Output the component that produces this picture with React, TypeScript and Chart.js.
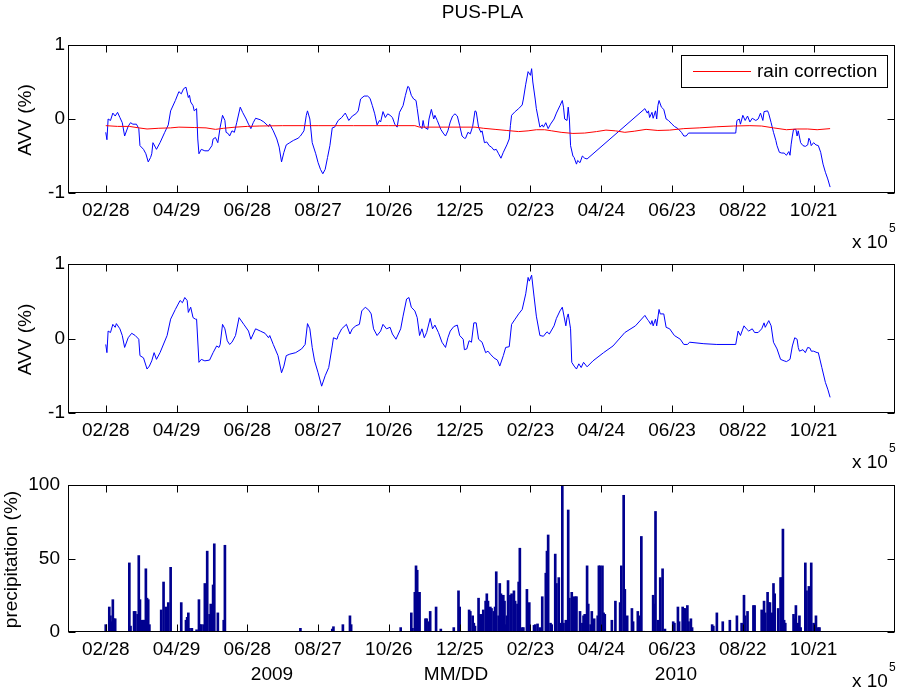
import React, { useEffect, useRef } from 'react';
import { Chart, registerables } from 'chart.js';
Chart.register(...registerables);

const FONT = '"Liberation Sans", Arial, Helvetica, sans-serif';
const W = 904;
const H = 689;

// x axis: days since 2009-02-28
const X_MIN = -32;
const X_MAX = 669;
const xTickDays = [0, 60, 120, 180, 240, 300, 360, 420, 480, 540, 600];
const xTickLabels = ['02/28', '04/29', '06/28', '08/27', '10/26', '12/25', '02/23', '04/24', '06/23', '08/22', '10/21'];
const avvTicks = [-1, 0, 1];
const precipTicks = [0, 50, 100];
const yearLabels = ['2009', 'MM/DD', '2010'];
const titleText = 'PUS-PLA';
const avvLabel = 'AVV (%)';
const precipLabel = 'precipitation (%)';
const legendLabel = 'rain correction';

// top panel: raw AVV (blue)
const rawDays = [0,1,2,4,6,8,10,12,14,16,19,21,23,26,28,29,32,34,36,38,39,40,42,43,46,50,53,55,59,62,64,66,68,70,71,72,74,75,77,78,79,81,84,87,90,91,93,95,97,99,101,102,104,105,107,109,111,114,116,119,121,123,125,127,131,134,138,139,142,145,147,149,151,153,156,159,163,165,168,170,171,173,175,178,180,182,184,186,188,190,192,194,197,200,203,204,206,209,212,214,216,219,222,224,226,228,230,232,233,235,237,239,241,243,245,247,249,252,254,256,257,259,261,263,264,266,268,269,270,273,274,276,278,279,281,284,286,288,290,292,294,296,298,300,302,304,305,307,309,311,313,314,316,318,319,321,323,325,327,329,331,333,335,337,340,342,343,344,347,350,353,354,356,358,360,361,362,364,365,368,370,371,373,375,377,380,382,385,387,388,389,391,392,393,394,396,397,399,400,402,404,406,408,457,459,460,461,463,464,466,467,468,469,471,473,475,477,480,482,485,488,490,492,494,534,535,537,538,540,542,544,546,548,551,553,555,557,558,561,562,564,566,568,569,571,573,575,577,579,580,581,582,583,585,586,587,589,591,593,595,596,597,598,600,602,604,606,608,610,612,614];
const rawAvv = [-0.18,-0.28,0,-0.02,0.08,0.04,0.09,0.02,-0.05,-0.23,-0.10,-0.05,-0.07,-0.07,-0.13,-0.36,-0.41,-0.47,-0.58,-0.52,-0.47,-0.32,-0.38,-0.41,-0.32,-0.18,-0.08,0.11,0.25,0.37,0.34,0.41,0.43,0.29,0.32,0.23,0.18,0.11,0.14,-0.27,-0.47,-0.41,-0.43,-0.43,-0.36,-0.27,-0.25,-0.32,-0.11,0.05,-0.02,-0.18,-0.20,-0.23,-0.16,-0.18,-0.05,0.16,0.09,0,-0.07,-0.13,-0.05,0.01,-0.01,-0.04,-0.10,-0.07,-0.16,-0.27,-0.38,-0.58,-0.45,-0.35,-0.32,-0.29,-0.26,-0.23,-0.16,0.05,0.11,0,-0.32,-0.47,-0.59,-0.68,-0.74,-0.68,-0.52,-0.36,-0.12,-0.11,-0.02,0.02,0.08,0.05,-0.02,0.04,0.07,0.11,0.27,0.31,0.31,0.28,0.18,0.07,-0.08,-0.02,-0.04,0.10,0.02,0.07,0.05,0.02,-0.07,-0.11,0.09,0.18,0.32,0.44,0.43,0.32,0.27,0.25,0.14,-0.09,-0.13,-0.02,-0.11,-0.14,0,0.13,0,0.05,-0.02,-0.14,-0.19,-0.23,-0.16,-0.04,0.04,0.07,0.04,-0.09,-0.23,-0.26,-0.26,-0.18,-0.20,-0.10,0.11,0.10,-0.11,-0.18,-0.16,-0.32,-0.31,-0.36,-0.38,-0.42,-0.41,-0.47,-0.53,-0.45,-0.35,-0.27,-0.09,0.05,0.10,0.14,0.19,0.27,0.47,0.64,0.59,0.68,0.50,0.27,0.14,-0.11,-0.08,-0.11,-0.05,-0.13,-0.07,0,0.08,0.18,0.25,0.16,0,-0.02,0.16,0,-0.36,-0.50,-0.52,-0.61,-0.56,-0.59,-0.50,-0.53,-0.54,0.14,0.08,0.11,0.02,0.09,0.01,0.11,0,0.18,0.25,0.16,0.13,0,-0.02,-0.07,-0.10,-0.13,-0.18,-0.23,-0.23,-0.19,-0.19,-0.02,0,-0.07,0.05,-0.02,0.04,-0.04,0.01,-0.02,0,0.08,-0.02,0.10,0.11,0.07,-0.05,-0.18,-0.29,-0.36,-0.45,-0.46,-0.46,-0.49,-0.44,-0.49,-0.34,-0.23,-0.14,-0.14,-0.23,-0.16,-0.32,-0.36,-0.37,-0.35,-0.26,-0.29,-0.36,-0.32,-0.35,-0.36,-0.45,-0.61,-0.72,-0.81,-0.92];

// top panel: rain correction (red)
const rainDays = [0,10,20,28,35,45,55,62,75,85,93,100,110,120,130,150,180,210,240,262,266,290,313,320,330,340,350,358,365,372,378,386,396,406,416,424,432,440,448,458,468,478,490,503,518,532,546,556,566,577,586,595,603,614];
const rainCorr = [-0.09,-0.10,-0.10,-0.12,-0.135,-0.125,-0.12,-0.11,-0.115,-0.12,-0.14,-0.125,-0.11,-0.10,-0.095,-0.09,-0.09,-0.09,-0.09,-0.09,-0.11,-0.11,-0.11,-0.125,-0.14,-0.155,-0.17,-0.16,-0.145,-0.145,-0.16,-0.18,-0.195,-0.19,-0.17,-0.15,-0.16,-0.18,-0.165,-0.14,-0.155,-0.15,-0.13,-0.12,-0.105,-0.095,-0.09,-0.095,-0.12,-0.145,-0.135,-0.135,-0.145,-0.13];

// middle panel: corrected AVV
const corrDays = [0,1,2,4,6,8,9,12,14,16,19,22,25,28,29,32,35,37,39,41,43,46,52,55,59,63,65,67,69,70,72,74,76,77,79,81,84,88,91,94,96,97,99,101,103,105,107,110,113,117,121,123,125,127,131,135,138,139,142,146,149,151,153,156,161,166,169,171,173,175,177,180,183,186,189,192,193,196,197,200,204,207,209,212,215,217,220,223,225,227,230,233,235,238,241,243,246,250,252,255,257,259,262,264,266,268,270,272,275,277,279,282,285,288,290,292,295,298,300,303,304,306,308,310,312,314,316,319,322,324,326,329,332,334,337,339,342,344,347,350,353,356,358,359,361,363,365,368,371,374,376,380,382,385,387,390,391,392,394,395,397,399,401,403,405,408,413,422,430,440,449,457,459,460,462,463,464,466,467,469,470,473,475,478,482,487,490,493,495,507,518,534,536,538,541,543,545,548,550,553,556,558,559,562,564,566,569,572,575,577,580,582,584,586,587,588,591,593,595,597,598,600,603,604,607,610,612,614];
const corrAvv = [-0.08,-0.19,0.10,0.08,0.19,0.15,0.20,0.13,0.04,-0.12,0.01,0.07,0.04,-0.01,-0.23,-0.26,-0.41,-0.37,-0.30,-0.19,-0.28,-0.19,0.04,0.26,0.39,0.51,0.48,0.55,0.51,0.35,0.42,0.28,0.26,0.26,-0.32,-0.28,-0.30,-0.29,-0.19,-0.10,-0.12,-0.08,0.19,0.13,-0.03,-0.08,-0.05,0.04,0.28,0.19,0.10,-0.01,0.06,0.13,0.10,0.07,0.01,0.04,-0.08,-0.23,-0.46,-0.37,-0.23,-0.21,-0.19,-0.14,-0.08,0.20,0.13,-0.12,-0.30,-0.46,-0.64,-0.50,-0.39,-0.10,0.01,-0.01,0.04,0.13,0.19,0.06,0.13,0.17,0.19,0.37,0.42,0.38,0.33,0.13,0.04,0.10,0.19,0.13,0.15,0.06,-0.01,0.13,0.30,0.53,0.55,0.42,0.37,0.28,0.04,0.13,0.01,0.08,0.27,0.13,0.18,0.08,-0.05,-0.12,0.01,0.10,0.16,0.18,0.04,-0.01,-0.15,-0.14,-0.03,-0.05,0.21,0.21,-0.01,-0.05,-0.19,-0.17,-0.21,-0.26,-0.29,-0.37,-0.23,-0.12,-0.11,0.19,0.26,0.33,0.39,0.60,0.82,0.77,0.85,0.57,0.30,0.04,0.03,0.09,0.06,0.17,0.27,0.37,0.42,0.17,0.28,0.33,0.13,-0.32,-0.37,-0.41,-0.34,-0.39,-0.32,-0.38,-0.30,-0.19,-0.10,0.08,0.17,0.31,0.26,0.24,0.19,0.24,0.17,0.26,0.17,0.39,0.33,0.33,0.15,0.13,0.04,-0.01,-0.08,-0.08,-0.05,-0.07,-0.08,-0.08,0.10,0.04,0.17,0.13,0.10,0.13,0.08,0.08,0.13,0.21,0.15,0.24,0.17,-0.05,-0.14,-0.28,-0.30,-0.31,-0.28,-0.10,0.01,-0.01,-0.12,-0.17,-0.15,-0.19,-0.12,-0.13,-0.17,-0.17,-0.19,-0.19,-0.39,-0.59,-0.68,-0.79];

// bottom panel: precipitation
const precipDays = [0,3,4,5,6,7,8,20,21,24,25,27,28,29,31,32,33,34,35,36,37,47,49,51,53,55,64,68,69,70,71,73,77,79,80,81,83,84,86,88,89,90,91,92,95,100,101,165,192,193,201,207,208,250,259,260,262,263,264,265,266,271,272,274,275,280,284,295,299,300,308,309,311,312,313,316,317,318,319,320,322,323,324,326,327,329,330,331,333,334,335,337,338,339,340,341,343,344,346,347,349,350,351,353,354,357,359,363,364,366,368,370,373,374,375,377,378,381,382,384,385,387,388,390,392,393,395,396,398,399,402,404,405,406,408,409,411,412,414,417,418,419,421,422,423,429,432,436,437,439,440,442,446,447,451,452,454,456,464,465,466,468,470,472,474,481,482,485,486,489,490,491,493,494,496,497,514,515,518,523,529,535,539,541,542,544,549,550,556,558,559,561,562,563,565,566,567,570,572,573,574,575,576,583,584,585,587,588,589,593,594,596,597,598,600,602,604,605];
const precipVals = [5,17,11,7,22,9,9,47,4,14,14,12,52,22,8,8,8,43,23,22,5,15,34,17,20,44,20,8,10,13,2.5,2.5,1.5,22,5,5,5,33,55,12,19,8,32,60,13,8,59,2.5,2,3.6,5,11,5,3,13,2.5,27,45,42,27,27,9,9,7,14,17,2,3,28,17,15,14,11,6,4,23,12,11,12,15,21,26,21,17,16,14,17,41,11,33,26,25,21,5,11,35,25,26,28,21,19,34,57,3,3,29,20,4.5,5,5.5,3,24,40,55,66,6,5,53,33,37,6,100,6,8,83,23,27,24,24,24,14,6,11,12,45,19,5,14,9,11,45,45,45,13,12,8,21,20,45,93,29,11,16,7,14,11,65,0.5,25,19,82,8,37,43,2,7,6,17,7,17,16,16,18,7,9,3,5,4,13,7,8,11,6,25,11,14,18,18,15,21,13,27,20,20,13,33,26,16,37,37,70,8,6,12,9,18,6,11,3,47,28,31,5,47,6,11,3,3];

const pts = (xs: number[], ys: number[]) => xs.map((x, i) => ({ x, y: ys[i] }));

function font(size: number) {
  return `${size}px ${FONT}`;
}

function framePlugin(id: string, extra?: (ctx: CanvasRenderingContext2D, chart: any) => void) {
  return {
    id,
    afterDraw(chart: any) {
      const ctx: CanvasRenderingContext2D = chart.ctx;
      const { left, right, top, bottom } = chart.chartArea;
      const xs = chart.scales.x;
      const ys = chart.scales.y;
      ctx.save();
      ctx.strokeStyle = '#000';
      ctx.lineWidth = 1;
      const L = Math.round(left) + 0.5;
      const R = Math.round(right) - 0.5;
      const T = Math.round(top) + 0.5;
      const B = Math.round(bottom) - 0.5;
      ctx.strokeRect(L, T, R - L, B - T);
      const tl = 7;
      ctx.beginPath();
      xs.ticks.forEach((t: any) => {
        const px = Math.round(xs.getPixelForValue(t.value)) + 0.5;
        ctx.moveTo(px, B); ctx.lineTo(px, B - tl);
        ctx.moveTo(px, T); ctx.lineTo(px, T + tl);
      });
      ys.ticks.forEach((t: any) => {
        const py = Math.round(ys.getPixelForValue(t.value)) + 0.5;
        ctx.moveTo(L, py); ctx.lineTo(L + tl, py);
        ctx.moveTo(R, py); ctx.lineTo(R - tl, py);
      });
      ctx.stroke();
      // x 10^5 multiplier
      ctx.fillStyle = '#000';
      ctx.textAlign = 'left';
      ctx.textBaseline = 'middle';
      ctx.font = font(19);
      ctx.fillText('x 10', 852, bottom + 50);
      ctx.font = font(12);
      ctx.fillText('5', 889, bottom + 36);
      if (extra) extra(ctx, chart);
      ctx.restore();
    },
  };
}

function yTitle(ctx: CanvasRenderingContext2D, chart: any, text: string, cx: number) {
  const { top, bottom } = chart.chartArea;
  ctx.save();
  ctx.translate(cx, (top + bottom) / 2 + 1);
  ctx.rotate(-Math.PI / 2);
  ctx.font = font(19);
  ctx.fillStyle = '#000';
  ctx.textAlign = 'center';
  ctx.textBaseline = 'middle';
  ctx.fillText(text, 0, 0);
  ctx.restore();
}

function xScale(padBottom: number) {
  return {
    type: 'linear' as const,
    min: X_MIN,
    max: X_MAX,
    offset: false,
    grid: { display: false, drawTicks: false },
    border: { display: false },
    afterBuildTicks: (s: any) => { s.ticks = xTickDays.map((v) => ({ value: v })); },
    afterFit: (s: any) => { s.height = 40; },
    ticks: {
      autoSkip: false,
      maxRotation: 0,
      padding: 6,
      color: '#000',
      font: { family: FONT, size: 19 },
      callback: (v: any) => xTickLabels[xTickDays.indexOf(Number(v))] ?? '',
    },
  };
}

function yScale(min: number, max: number, ticks: number[], pad: number) {
  return {
    type: 'linear' as const,
    min,
    max,
    grid: { display: false, drawTicks: false },
    border: { display: false },
    afterBuildTicks: (s: any) => { s.ticks = ticks.map((v) => ({ value: v })); },
    afterFit: (s: any) => { s.width = 68; },
    ticks: {
      padding: pad,
      color: '#000',
      font: { family: FONT, size: 19 },
      callback: (v: any) => String(v),
    },
  };
}

function baseOptions(padTop: number, plotBottom: number, yS: any) {
  return {
    responsive: false,
    maintainAspectRatio: false,
    animation: false as const,
    devicePixelRatio: 1,
    events: [] as any[],
    layout: { padding: { left: 0, right: W - 895, top: padTop, bottom: H - plotBottom - 40 } },
    plugins: { legend: { display: false }, tooltip: { enabled: false }, title: { display: false } },
    scales: { x: xScale(0), y: yS },
  };
}

export default function App() {
  const r1 = useRef<HTMLCanvasElement>(null);
  const r2 = useRef<HTMLCanvasElement>(null);
  const r3 = useRef<HTMLCanvasElement>(null);

  useEffect(() => {
    const c1 = new Chart(r1.current!, {
      type: 'line',
      data: {
        datasets: [
          { label: legendLabel, data: pts(rainDays, rainCorr), borderColor: '#ff0000', borderWidth: 1, pointRadius: 0, tension: 0 },
          { label: 'AVV', data: pts(rawDays, rawAvv), borderColor: '#0000ff', borderWidth: 1, pointRadius: 0, tension: 0 },
        ],
      },
      options: baseOptions(45, 193, yScale(-1, 1, avvTicks, 3)) as any,
      plugins: [framePlugin('frame1', (ctx, chart) => {
        yTitle(ctx, chart, avvLabel, 26);
        // title
        ctx.font = font(19);
        ctx.fillStyle = '#000';
        ctx.textAlign = 'center';
        ctx.textBaseline = 'middle';
        ctx.fillText(titleText, (chart.chartArea.left + chart.chartArea.right) / 2 + 1, 13);
        // legend
        const ds = chart.data.datasets[0];
        ctx.fillStyle = '#fff';
        ctx.fillRect(681, 55, 206, 32);
        ctx.strokeStyle = '#000';
        ctx.lineWidth = 1;
        ctx.strokeRect(681.5, 55.5, 206, 32);
        ctx.beginPath();
        ctx.strokeStyle = ds.borderColor;
        ctx.moveTo(693, 71.5);
        ctx.lineTo(751, 71.5);
        ctx.stroke();
        ctx.fillStyle = '#000';
        ctx.textAlign = 'left';
        ctx.fillText(ds.label, 757, 72);
      })],
    });
    const c2 = new Chart(r2.current!, {
      type: 'line',
      data: {
        datasets: [
          { label: 'AVV corrected', data: pts(corrDays, corrAvv), borderColor: '#0000ff', borderWidth: 1, pointRadius: 0, tension: 0 },
        ],
      },
      options: baseOptions(264, 413, yScale(-1, 1, avvTicks, 3)) as any,
      plugins: [framePlugin('frame2', (ctx, chart) => yTitle(ctx, chart, avvLabel, 26))],
    });
    const c3 = new Chart(r3.current!, {
      type: 'bar',
      data: {
        datasets: [
          { label: 'precipitation', data: pts(precipDays, precipVals) as any, backgroundColor: '#00008f', borderWidth: 0, barThickness: 2 },
        ],
      },
      options: baseOptions(485, 632, yScale(0, 100, precipTicks, 8)) as any,
      plugins: [framePlugin('frame3', (ctx, chart) => {
        yTitle(ctx, chart, precipLabel, 12);
        ctx.font = font(19);
        ctx.fillStyle = '#000';
        ctx.textAlign = 'center';
        ctx.textBaseline = 'middle';
        const xsPos = [272, 456, 676];
        yearLabels.forEach((t, i) => ctx.fillText(t, xsPos[i], 675));
      })],
    });
    return () => { c1.destroy(); c2.destroy(); c3.destroy(); };
  }, []);

  const cs: React.CSSProperties = { position: 'absolute', left: 0, top: 0, width: W, height: H };
  return (
    <div style={{ position: 'fixed', left: 0, top: 0, width: W, height: H, background: '#fff' }}>
      <canvas ref={r1} width={W} height={H} style={cs} />
      <canvas ref={r2} width={W} height={H} style={cs} />
      <canvas ref={r3} width={W} height={H} style={cs} />
    </div>
  );
}
